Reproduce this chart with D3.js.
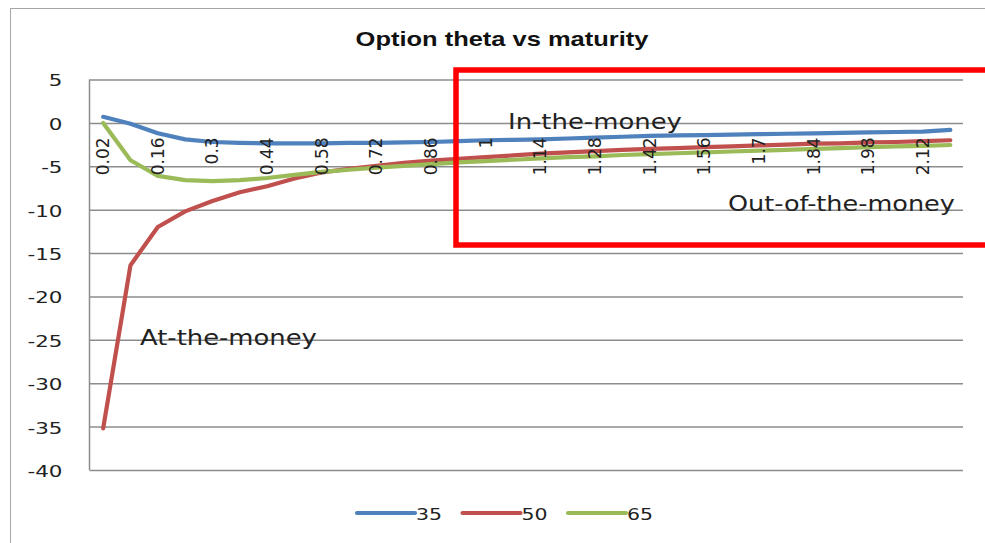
<!DOCTYPE html>
<html>
<head>
<meta charset="utf-8">
<script src="https://cdn.jsdelivr.net/npm/d3@7"></script>
<style>
  html, body { margin: 0; padding: 0; background: #fff; }
  svg { display: block; }
</style>
</head>
<body>
<svg id="chart" width="985" height="543"></svg>
<script>
// Time to maturity (years) for each point on the category axis
const maturities = ["0.02","0.09","0.16","0.23","0.3","0.37","0.44","0.51","0.58","0.65",
  "0.72","0.79","0.86","0.93","1","1.07","1.14","1.21","1.28","1.35","1.42","1.49",
  "1.56","1.63","1.7","1.77","1.84","1.91","1.98","2.05","2.12","2.19"];

// Option theta for strikes 35, 50 and 65
const theta35 = [0.7,-0.1,-1.2,-1.9,-2.2,-2.3,-2.35,-2.35,-2.35,-2.3,-2.3,-2.25,-2.2,-2.1,
  -2.0,-1.95,-1.9,-1.8,-1.7,-1.6,-1.5,-1.45,-1.4,-1.35,-1.3,-1.25,-1.2,-1.15,-1.1,-1.05,-1.0,-0.8];
const theta50 = [-35.2,-16.4,-12.0,-10.2,-9.0,-8.0,-7.3,-6.4,-5.7,-5.3,-4.95,-4.6,-4.35,-4.15,
  -3.95,-3.75,-3.55,-3.4,-3.25,-3.1,-3.0,-2.9,-2.8,-2.7,-2.6,-2.5,-2.4,-2.35,-2.25,-2.2,-2.1,-2.0];
const theta65 = [0.0,-4.3,-6.1,-6.6,-6.7,-6.6,-6.35,-6.0,-5.65,-5.4,-5.15,-4.95,-4.75,-4.55,
  -4.4,-4.25,-4.1,-3.95,-3.85,-3.7,-3.6,-3.5,-3.4,-3.3,-3.2,-3.1,-3.0,-2.9,-2.8,-2.7,-2.65,-2.55];

const seriesNames = ["35", "50", "65"];
const seriesColors = ["#4f81bd", "#c0504d", "#9bbb59"];
const yTicks = [5, 0, -5, -10, -15, -20, -25, -30, -35, -40];
const titleText = "Option theta vs maturity";
const annotations = ["In-the-money", "At-the-money", "Out-of-the-money"];

const series = seriesNames.map((name, i) => ({
  name, color: seriesColors[i], values: [theta35, theta50, theta65][i]
}));

const svg = d3.select("#chart");
const plot = { left: 89.5, right: 964, top: 79.5, bottom: 470 };

const x = d3.scaleBand().domain(maturities).range([plot.left, plot.right]).paddingInner(0).paddingOuter(0);
const cx = d => x(d) + x.bandwidth() / 2;
const y = d3.scaleLinear().domain([-40, 5]).range([plot.bottom, plot.top]);

// stretch a text element horizontally around its anchor point
function widen(sel, k) {
  sel.attr("transform", function () {
    const tx = +this.getAttribute("x"), ty = +this.getAttribute("y");
    return `translate(${tx},${ty}) scale(${k},1) translate(${-tx},${-ty})`;
  });
}
// horizontal stretch that brings a text element to a given width
function stretchTo(node, width) {
  return width / node.getComputedTextLength();
}

// chart frame
svg.append("rect")
  .attr("x", 10.5).attr("y", 8.5).attr("width", 1000).attr("height", 545)
  .attr("fill", "#fff").attr("stroke", "#a6a6a6").attr("stroke-width", 1);

// title
const title = svg.append("text")
  .attr("x", 502).attr("y", 46.5)
  .attr("text-anchor", "middle")
  .attr("font-family", "'Liberation Sans', Arial, sans-serif")
  .attr("font-weight", "bold").attr("font-size", 20.5)
  .attr("fill", "#111")
  .text(titleText);
title.call(widen, stretchTo(title.node(), 293));

// horizontal gridlines
svg.append("g")
  .attr("transform", `translate(${plot.left},0)`)
  .call(d3.axisLeft(y).tickValues(yTicks).tickSize(-(963 - plot.left)).tickFormat(""))
  .call(g => g.select(".domain").remove())
  .call(g => g.selectAll(".tick line").attr("stroke", "#8c8c8c").attr("stroke-width", 1.5));

// vertical axis line
svg.append("line")
  .attr("x1", plot.left).attr("x2", plot.left)
  .attr("y1", y(5)).attr("y2", y(-40))
  .attr("stroke", "#8c8c8c").attr("stroke-width", 1.5);

// value axis labels, all stretched by the factor that makes "-40" 35px wide
const yLabels = svg.append("g").selectAll("text")
  .data(yTicks).join("text")
  .attr("x", 62.5).attr("y", d => y(d) + 7)
  .attr("text-anchor", "end")
  .attr("font-family", "'DejaVu Sans', sans-serif").attr("font-size", 16)
  .attr("fill", "#222")
  .text(d => d);
const kY = stretchTo(yLabels.filter(d => d === -40).node(), 35);
yLabels.call(widen, kY);

// series lines
const line = d3.line()
  .x((d, i) => cx(maturities[i]))
  .y(d => y(d));

svg.append("g").selectAll("path")
  .data(series).join("path")
  .attr("d", s => line(s.values))
  .attr("fill", "none")
  .attr("stroke", s => s.color)
  .attr("stroke-width", 4.2)
  .attr("stroke-linejoin", "round")
  .attr("stroke-linecap", "round");

// category axis labels (every second maturity), rotated, hanging below the zero line
const shown = maturities.filter((d, i) => i % 2 === 0);
const xAxis = svg.append("g")
  .attr("transform", `translate(0,${y(0)})`)
  .call(d3.axisBottom(x).tickValues(shown).tickSize(0).tickPadding(0));
xAxis.select(".domain").remove();
xAxis.selectAll(".tick text")
  .attr("font-family", "'DejaVu Sans', sans-serif").attr("font-size", 17)
  .attr("fill", "#222")
  .attr("text-anchor", "end")
  .attr("transform", "rotate(-90)")
  .attr("x", -14.5).attr("y", 0).attr("dy", "0.35em");

// annotations
const annPos = [[508, 129], [140, 345], [728, 211]];
const annWidth = [174, 177, 227];
svg.append("g").selectAll("text")
  .data(annotations).join("text")
  .attr("x", (d, i) => annPos[i][0]).attr("y", (d, i) => annPos[i][1])
  .attr("font-family", "'DejaVu Sans', sans-serif").attr("font-size", 20.5)
  .attr("fill", "#222")
  .text(d => d)
  .each(function (d, i) { d3.select(this).call(widen, stretchTo(this, annWidth[i])); });

// highlight box
svg.append("rect")
  .attr("x", 456).attr("y", 70).attr("width", 600).attr("height", 175)
  .attr("fill", "none").attr("stroke", "#ff0000").attr("stroke-width", 5.5);

// legend
const legend = svg.append("g").selectAll("g")
  .data(series).join("g")
  .attr("transform", (d, i) => `translate(${357 + i * 105.5},513)`);
legend.append("line")
  .attr("x1", 0).attr("x2", 58).attr("y1", 0).attr("y2", 0)
  .attr("stroke", d => d.color).attr("stroke-width", 4.2).attr("stroke-linecap", "round");
legend.append("text")
  .attr("x", 59).attr("y", 6.5)
  .attr("font-family", "'DejaVu Sans', sans-serif").attr("font-size", 16)
  .attr("fill", "#222")
  .text(d => d.name)
  .each(function () { d3.select(this).call(widen, stretchTo(this, 26)); });
</script>
</body>
</html>
